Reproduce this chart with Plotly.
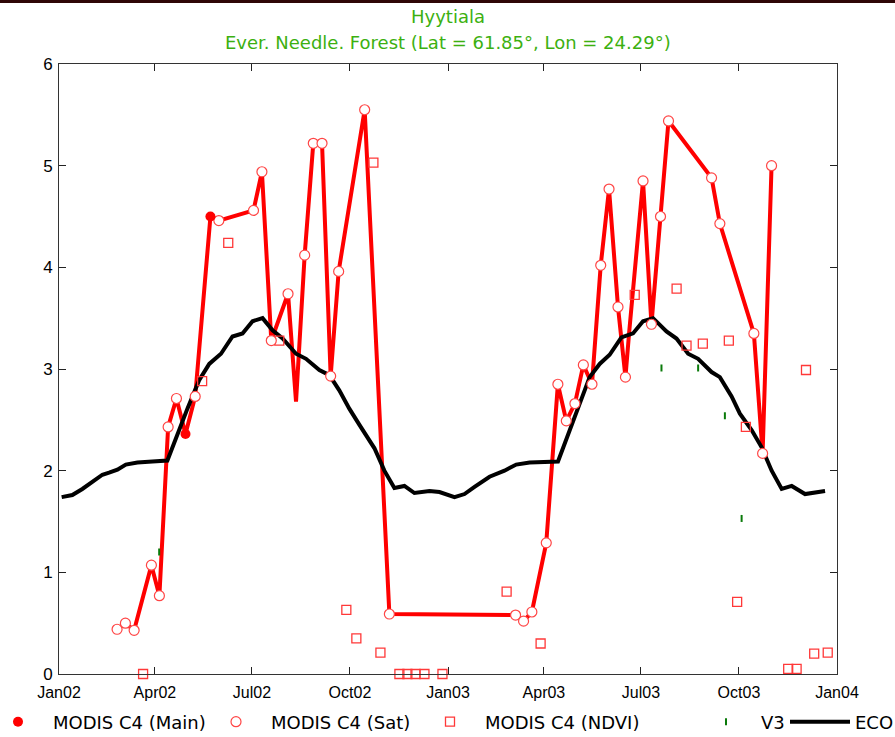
import pandas as pd
import plotly.graph_objects as go

# ---------------- data (days since 2002-01-01, values) ----------------
lai_days = [54.5, 62.3, 70.5, 86.7, 94.2, 102.4, 110.2, 118.7, 127.8, 142.1,
            150.0, 182.5, 190.4, 199.2, 214.9, 222.4, 230.5, 238.6, 246.8, 254.9,
            262.4, 286.8, 310.0, 428.4, 435.9, 443.7, 457.2, 468.1, 476.0, 484.1,
            492.0, 500.1, 508.3, 516.1, 524.5, 531.5, 534.9, 548.0, 555.9, 564.4,
            571.9, 612.3, 620.1, 652.0, 660.2, 668.6]
lai_values = [0.44, 0.50, 0.43, 1.07, 0.77, 2.43, 2.71, 2.36, 2.73, 4.50,
              4.46, 4.56, 4.94, 3.28, 3.74, 2.68, 4.12, 5.22, 5.22, 2.93,
              3.96, 5.55, 0.59, 0.58, 0.52, 0.61, 1.29, 2.85, 2.49, 2.66,
              3.04, 2.85, 4.02, 4.77, 3.61, 2.92, 3.35, 4.85, 3.44, 4.50,
              5.44, 4.88, 4.43, 3.35, 2.17, 5.00]
lai_source = ["sat", "sat", "sat", "sat", "sat", "sat", "sat", "main", "sat", "main",
              "sat", "sat", "sat", "sat", "sat", "", "sat", "sat", "sat", "sat",
              "sat", "sat", "sat", "sat", "sat", "sat", "sat", "sat", "sat", "sat",
              "sat", "sat", "sat", "sat", "sat", "sat", "", "sat", "sat", "sat",
              "sat", "sat", "sat", "sat", "sat", "sat"]

ndvi_days = [78.9, 134.3, 158.8, 206.7, 269.6, 279.0, 295.0, 301.6, 319.4, 326.9,
             334.5, 342.9, 359.8, 420.0, 451.9, 540.2, 579.5, 588.8, 604.1, 628.5,
             636.3, 644.5, 684.2, 692.1, 700.9, 708.6, 721.3]
ndvi_values = [0.0, 2.88, 4.24, 3.28, 0.63, 0.35, 5.03, 0.21, 0.0, 0.0,
               0.0, 0.0, 0.0, 0.81, 0.30, 3.73, 3.79, 3.23, 3.25, 3.28,
               0.71, 2.43, 0.05, 0.05, 2.99, 0.20, 0.21]

v3_days = [94.0, 565.3, 599.7, 624.8, 640.5]
v3_values = [1.20, 3.01, 3.01, 2.54, 1.53]

eco_days = [2.5, 12.5, 21.9, 31.3, 40.7, 47.0, 54.8, 62.7, 73.6, 87.7,
            101.7, 120.5, 131.5, 141.0, 152.0, 162.8, 172.2, 181.6, 191.0, 200.4,
            209.8, 222.4, 231.8, 244.3, 253.7, 263.0, 272.4, 281.9, 296.0, 305.3,
            314.7, 324.1, 333.5, 347.6, 357.0, 371.1, 380.5, 389.9, 404.0, 418.0,
            429.0, 441.6, 468.2, 497.9, 507.3, 516.7, 527.7, 538.6, 548.0, 557.4,
            570.0, 579.4, 590.3, 599.7, 612.3, 620.1, 631.1, 638.9, 649.9, 659.3,
            668.7, 678.1, 687.5, 700.0, 709.4, 718.8]
eco_values = [1.74, 1.76, 1.82, 1.89, 1.96, 1.98, 2.01, 2.06, 2.08, 2.09,
              2.10, 2.61, 2.89, 3.05, 3.15, 3.32, 3.35, 3.47, 3.50, 3.38,
              3.30, 3.15, 3.10, 2.99, 2.94, 2.79, 2.61, 2.45, 2.22, 2.00,
              1.83, 1.85, 1.78, 1.80, 1.79, 1.74, 1.77, 1.84, 1.94, 2.00,
              2.06, 2.08, 2.09, 2.92, 3.05, 3.14, 3.31, 3.35, 3.47, 3.50,
              3.37, 3.30, 3.15, 3.10, 2.97, 2.92, 2.73, 2.56, 2.40, 2.23,
              2.00, 1.82, 1.85, 1.77, 1.79, 1.80]

x_ticks = ["2002-01-01", "2002-04-01", "2002-07-01", "2002-10-01", "2003-01-01",
           "2003-04-01", "2003-07-01", "2003-10-01", "2004-01-01"]
y_ticks = [0, 1, 2, 3, 4, 5, 6]

title1 = "Hyytiala"
title2 = "Ever. Needle. Forest (Lat = 61.85°, Lon = 24.29°)"

# ---------------- build ----------------
base = pd.Timestamp("2002-01-01")


def to_dates(days):
    return base + pd.to_timedelta(days, unit="D")


lai_dates = to_dates(lai_days)
main_x = [d for d, s in zip(lai_dates, lai_source) if s == "main"]
main_y = [v for v, s in zip(lai_values, lai_source) if s == "main"]
sat_x = [d for d, s in zip(lai_dates, lai_source) if s == "sat"]
sat_y = [v for v, s in zip(lai_values, lai_source) if s == "sat"]

LEG_FONT = dict(family="DejaVu Sans", size=18, color="black")
TITLE_GREEN = "#3cb010"

fig = go.Figure()

fig.add_trace(go.Scatter(x=lai_dates, y=lai_values, mode="lines",
                         line=dict(color="#ff0000", width=4),
                         showlegend=False, hoverinfo="skip"))
fig.add_trace(go.Scatter(x=to_dates(eco_days), y=eco_values, mode="lines",
                         line=dict(color="black", width=4), name="ECO",
                         legend="legend5"))
fig.add_trace(go.Scatter(x=to_dates(v3_days), y=v3_values, mode="markers",
                         marker=dict(symbol="line-ns", size=5, color="#0a7a0a",
                                     line=dict(color="#0a7a0a", width=2)),
                         name="V3", legend="legend4", cliponaxis=False))
fig.add_trace(go.Scatter(x=to_dates(ndvi_days), y=ndvi_values, mode="markers",
                         marker=dict(symbol="square-open", size=9, color="#ff3838",
                                     line=dict(width=1.3)),
                         name="MODIS C4 (NDVI)", legend="legend3", cliponaxis=False))
fig.add_trace(go.Scatter(x=sat_x, y=sat_y, mode="markers",
                         marker=dict(symbol="circle", size=10, color="white",
                                     line=dict(color="#ff4545", width=1.2)),
                         name="MODIS C4 (Sat)", legend="legend2", cliponaxis=False))
fig.add_trace(go.Scatter(x=main_x, y=main_y, mode="markers",
                         marker=dict(symbol="circle", size=10, color="#ff0000"),
                         name="MODIS C4 (Main)", legend="legend", cliponaxis=False))

PW, PH, L, T = 778, 610, 59, 64


def px_x(p):
    return (p - L) / PW


def px_y(p):
    return 1 + (T - p) / PH


leg_y = px_y(722)
common_leg = dict(orientation="h", yanchor="middle", xanchor="left", y=leg_y,
                  font=LEG_FONT, bgcolor="rgba(0,0,0,0)", borderwidth=0,
                  itemwidth=60, tracegroupgap=0)

fig.update_layout(
    width=895, height=737,
    margin=dict(l=L, r=895 - L - PW, t=T, b=737 - T - PH, pad=0, autoexpand=False),
    paper_bgcolor="white", plot_bgcolor="white",
    showlegend=True,
    legend=dict(common_leg, x=px_x(-17)),
    legend2=dict(common_leg, x=px_x(201)),
    legend3=dict(common_leg, x=px_x(415)),
    legend4=dict(common_leg, x=px_x(691)),
    legend5=dict(common_leg, x=px_x(785)),
    xaxis=dict(type="date", range=["2002-01-01", "2004-01-01"],
               tickvals=x_ticks, tickformat="%b%y", automargin=False,
               ticks="inside", ticklen=7, tickcolor="#222", ticklabelstandoff=4,
               showline=True, linecolor="#333", linewidth=1, mirror="ticks",
               showgrid=False, zeroline=False,
               tickfont=dict(family="Liberation Sans", size=16, color="black")),
    yaxis=dict(range=[0, 6], tickvals=y_ticks, automargin=False,
               ticks="inside", ticklen=7, tickcolor="#222", ticklabelstandoff=2,
               showline=True, linecolor="#333", linewidth=1, mirror="ticks",
               showgrid=False, zeroline=False,
               tickfont=dict(family="Liberation Sans", size=17, color="black")),
    annotations=[
        dict(text=title1, xref="paper", yref="paper", x=px_x(448), y=px_y(16),
             xanchor="center", yanchor="middle", showarrow=False,
             font=dict(family="DejaVu Sans", size=18, color=TITLE_GREEN)),
        dict(text=title2, xref="paper", yref="paper", x=px_x(448), y=px_y(43),
             xanchor="center", yanchor="middle", showarrow=False,
             font=dict(family="DejaVu Sans", size=18, color=TITLE_GREEN)),
    ],
    shapes=[
        dict(type="rect", xref="paper", yref="paper",
             x0=px_x(-2), x1=px_x(897), y0=px_y(3), y1=px_y(-2),
             fillcolor="#2e0606", line=dict(width=0), layer="above"),
    ],
)

fig.write_html("out.html")
